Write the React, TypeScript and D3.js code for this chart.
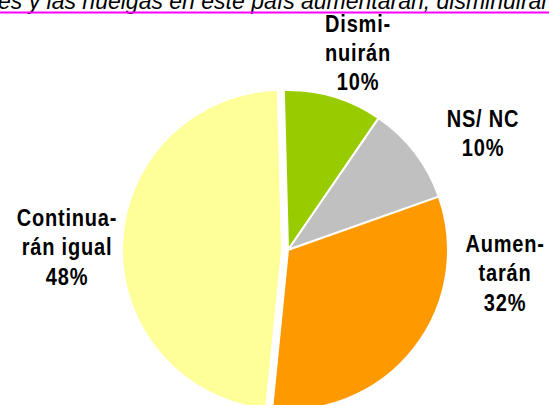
import React from "react";
import * as d3 from "d3";

const categories = ["Dismi-|nuirán", "NS/ NC", "Aumen-|tarán", "Continua-|rán igual"];
const values = [10, 10, 32, 48];
const colors = ["#99CC00", "#C0C0C0", "#FF9900", "#FFFF99"];
const labelPos = [
  [358, 31.5],
  [483, 127],
  [505, 252],
  [67, 226],
];
const exploded = [0, 0, 0, 6];
const title = "es y las huelgas en este país aumentarán, disminuirán o continuarán igual?";

export default function App() {
  const W = 549, H = 405;
  const cx = 288, cy = 250, r = 160;
  const start = (-1.5 * Math.PI) / 180;
  const pie = d3.pie<number>().sort(null).startAngle(start).endAngle(start + 2 * Math.PI);
  const arcs = pie(values);
  const arc = d3.arc<d3.PieArcDatum<number>>().innerRadius(0).outerRadius(r);
  const lh = 25.5;
  return (
    <svg width={W} height={H} style={{ position: "absolute", left: 0, top: 0, background: "#fff" }}>
      <text x={-2} y={9} fontFamily="Liberation Sans, Arial, sans-serif" fontStyle="italic" fontSize={23} fill="#000">
        {title}
      </text>
      <line x1={0} x2={W} y1={12.5} y2={12.5} stroke="#FF00FF" strokeWidth={2} />
      <g transform={`translate(${cx},${cy})`}>
        {arcs.map((a, i) => {
          const mid = (a.startAngle + a.endAngle) / 2;
          const dx = Math.sin(mid) * exploded[i];
          const dy = -Math.cos(mid) * exploded[i];
          return (
            <path
              key={i}
              d={arc(a) || ""}
              transform={`translate(${dx},${dy})`}
              fill={colors[i]}
              stroke="#fff"
              strokeWidth={2}
              strokeLinejoin="round"
            />
          );
        })}
      </g>
      {categories.map((c, i) => {
        const lines = [...c.split("|"), `${values[i]}%`];
        return (
          <g key={i} transform={`translate(${labelPos[i][0]},${labelPos[i][1]}) scale(1,1.15)`}>
            <text
              textAnchor="middle"
              fontFamily="Liberation Sans, Arial, sans-serif"
              fontWeight="bold"
              fontSize={20}
              letterSpacing={0.8}
              fill="#000"
            >
              {lines.map((l, j) => (
                <tspan key={j} x={0} y={j * lh}>
                  {l}
                </tspan>
              ))}
            </text>
          </g>
        );
      })}
    </svg>
  );
}
